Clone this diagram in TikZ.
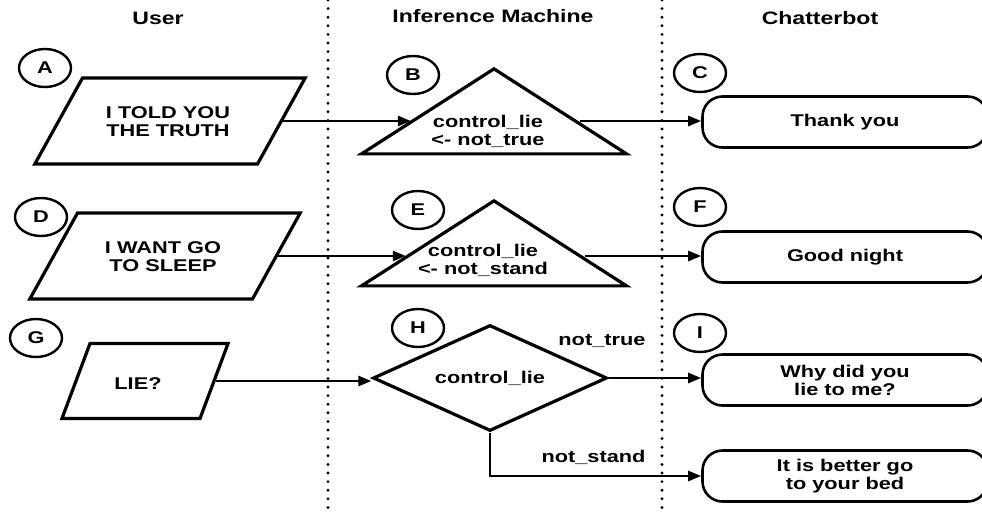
\documentclass[tikz,border=0pt]{standalone}
\usepackage{fontspec}
\setmainfont{Liberation Sans}[FakeStretch=1.28]
\usetikzlibrary{shapes.geometric,arrows.meta}

\begin{document}
\begin{tikzpicture}[x=1pt,y=-1pt,font=\fontsize{17}{18}\selectfont\bfseries,
    lane/.style={line width=3.2pt,line cap=round,dash pattern=on 0pt off 8.6pt},
    tag/.style={draw,ellipse,line width=2.4pt,minimum width=52pt,minimum height=38pt,inner sep=0pt},
    inbox/.style={draw,trapezium,line width=3.2pt},
    decide/.style={draw,isosceles triangle,shape border rotate=90,isosceles triangle stretches,
        line width=3.2pt,minimum width=265pt,minimum height=85pt,inner sep=0pt},
    reply/.style={draw,rounded corners=20pt,line width=2.6pt,minimum width=285pt,minimum height=51pt,align=center},
    arr/.style={line width=2.6pt,-{Triangle[length=13pt,width=10pt]}}]
    \useasboundingbox (0,0) rectangle (982,512);
    % swim lanes
    \draw[lane] (328,0) -- (328,512);
    \draw[lane] (662,0) -- (662,512);
    \node[font=\fontsize{18}{20}\selectfont\bfseries] (user) at (158,18) {User};
    \node[font=\fontsize{18}{20}\selectfont\bfseries] (inf) at (493,16) {Inference Machine};
    \node[font=\fontsize{18}{20}\selectfont\bfseries] (bot) at (820,18) {Chatterbot};

    % first row
    \node[tag] (a) at (45,68) {A};
    \node[inbox,trapezium left angle=61,trapezium right angle=119,inner xsep=87.5pt,inner ysep=43pt] (ain) at (170,121) {};
    \node[align=center] (aintxt) at (168,122) {I TOLD YOU\\THE TRUTH};
    \node[tag] (b) at (413,75) {B};
    \node[decide] (bm) at (494,115) {};
    \node[align=center] (bt) at (488,131) {control\_lie\\<- not\_true};
    \node[tag] (c) at (700,73) {C};
    \node[reply] (cr) at (845,122) {Thank you};
    \draw[arr] (ain.east) -- (ain.east -| bm.183.5);
    \draw[arr] (ain.east -| bm.356.5) -- (ain.east -| cr.west);

    % second row
    \node[tag] (d) at (41,217) {D};
    \node[inbox,trapezium left angle=61,trapezium right angle=119,inner xsep=87.5pt,inner ysep=43pt] (din) at (165,256) {};
    \node[align=center] (dintxt) at (163,257) {I WANT GO\\TO SLEEP};
    \node[tag] (e) at (418,210) {E};
    \node[decide] (em) at (494,247) {};
    \node[align=center] (et) at (483,260) {control\_lie\\<- not\_stand};
    \node[tag] (f) at (700,207) {F};
    \node[reply] (fr) at (845,257) {Good night};
    \draw[arr] (din.east) -- (din.east -| em.185.3);
    \draw[arr] (din.east -| em.354.7) -- (din.east -| fr.west);

    % third row
    \node[tag] (g) at (36,338) {G};
    \node[inbox,trapezium left angle=69.5,trapezium right angle=110.5,inner xsep=55pt,inner ysep=37.5pt] (gin) at (145,381) {};
    \node (gintxt) at (138,384) {LIE?};
    \node[tag] (h) at (418,328) {H};
    \node[draw,diamond,aspect=2.2,line width=3.2pt,minimum width=234pt,minimum height=106pt,inner sep=0pt] (hm) at (490,378) {control\_lie};
    \node[tag] (i) at (700,333) {I};
    \node[reply] (ir) at (845,380) {Why did you\\lie to me?};
    \node[reply] (jr) at (845,476) {It is better go\\to your bed};
    \draw[arr] (gin.east) -- (gin.east -| hm.west);
    \draw[arr] (hm.east) -- (hm.east -| ir.west);
    \draw[arr] (hm.south) |- (jr.west);
    \node[anchor=east] (nt) at (649,341) {not\_true};
    \node[anchor=east] (ns) at (649,457) {not\_stand};
\end{tikzpicture}
\end{document}
